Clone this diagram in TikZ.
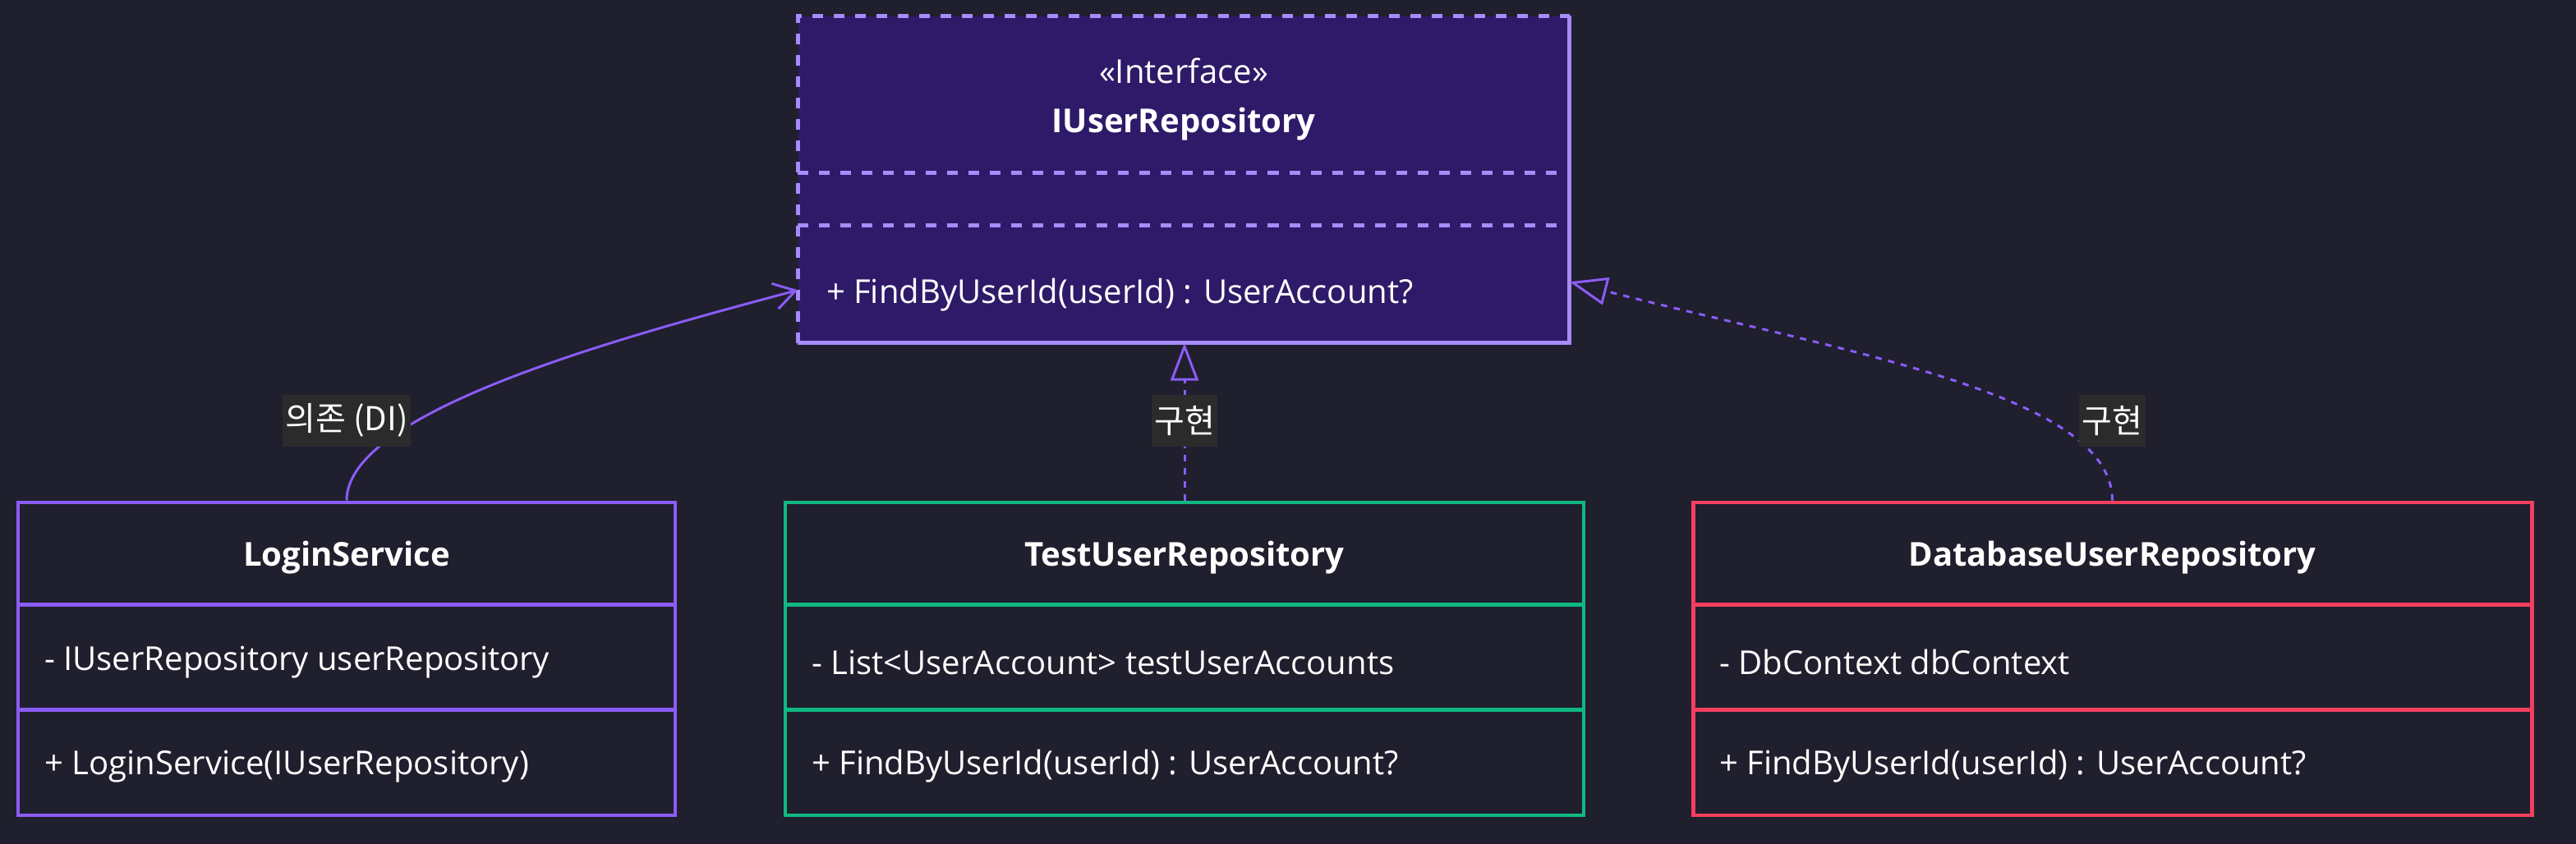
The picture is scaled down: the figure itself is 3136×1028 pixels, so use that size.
\documentclass[tikz,border=0pt]{standalone}
\usepackage{fontspec}
\setmainfont{Open Sans}
\newfontfamily\krfont{Noto Sans CJK KR}
\usetikzlibrary{positioning,arrows.meta}

\definecolor{canvas}{HTML}{1F1F2E}
\definecolor{ifacefill}{HTML}{2E1A68}
\definecolor{ifaceline}{HTML}{A78BFA}
\definecolor{violet}{HTML}{8B5CF6}
\definecolor{mint}{HTML}{10B981}
\definecolor{rose}{HTML}{F43F5E}
\definecolor{labelbg}{HTML}{2B2B2B}

\begin{document}
\begin{tikzpicture}[x=0.1mm, y=-0.1mm,
	every node/.style={text=white, font=\fontsize{11.4}{14}\selectfont},
	classbox/.style={draw=#1, line width=1.4pt, fill=canvas, inner sep=0pt, minimum height=38.1mm},
	title/.style={font=\fontsize{11.4}{14}\selectfont\bfseries},
	member/.style={anchor=west, inner sep=0pt},
	edgelabel/.style={fill=labelbg, inner xsep=1pt, inner ysep=0pt, minimum height=6.3mm, font=\fontsize{11.4}{14}\selectfont\krfont},
	depline/.style={violet, line width=0.85pt},
	implline/.style={violet, line width=0.85pt, dash pattern=on 2.2pt off 2.3pt}
]

	\fill [canvas] (0,0) rectangle (3136,1028);

	% interface
	\node [fill=ifacefill, inner sep=0pt, minimum width=93.8mm, minimum height=39.7mm] (iface) at (1441,218.5) {};
	\draw [ifaceline, line width=1.4pt, dash pattern=on 3.7pt off 3.7pt] (iface.south west) -- (iface.north west) -- (iface.north east);
	\draw [ifaceline, line width=1.4pt] (iface.north east) -- (iface.south east) -- (iface.south west);
	\draw [ifaceline, line width=1.4pt, dash pattern=on 3.7pt off 3.7pt] ([yshift=-19.1mm]iface.north west) -- ([yshift=-19.1mm]iface.north east);
	\draw [ifaceline, line width=1.4pt, dash pattern=on 3.7pt off 3.7pt] ([yshift=-25.5mm]iface.north west) -- ([yshift=-25.5mm]iface.north east);
	\node (ifacestereo) at ([yshift=-6.7mm]iface.north) {«Interface»};
	\node [title] (ifacename) at ([yshift=-13.2mm]iface.north) {IUserRepository};
	\node [member] (ifaceop) at ([xshift=3.4mm, yshift=-34mm]iface.north west) {+ FindByUserId(userId) : UserAccount?};

	% classes
	\node [classbox=violet, minimum width=80mm] (login) at (422,802.5) {};
	\node [classbox=mint, minimum width=97.2mm] (test) at (1442,802.5) {};
	\node [classbox=rose, minimum width=102.1mm] (db) at (2571.5,802.5) {};
	\foreach \cls/\col in {login/violet, test/mint, db/rose} {
		\draw [\col, line width=1.4pt] ([yshift=-12.7mm]\cls.north west) -- ([yshift=-12.7mm]\cls.north east);
		\draw [\col, line width=1.4pt] ([yshift=-25.5mm]\cls.north west) -- ([yshift=-25.5mm]\cls.north east);
	}

	\node [title] (loginname) at ([yshift=-7mm]login.north) {LoginService};
	\node [member] (loginattr) at ([xshift=3.4mm, yshift=-19.7mm]login.north west) {- IUserRepository userRepository};
	\node [member] (loginop) at ([xshift=3.4mm, yshift=-32.4mm]login.north west) {+ LoginService(IUserRepository)};

	\node [title] (testname) at ([yshift=-7mm]test.north) {TestUserRepository};
	\node [member] (testattr) at ([xshift=3.4mm, yshift=-19.7mm]test.north west) {- List<UserAccount> testUserAccounts};
	\node [member] (testop) at ([xshift=3.4mm, yshift=-32.4mm]test.north west) {+ FindByUserId(userId) : UserAccount?};

	\node [title] (dbname) at ([yshift=-7mm]db.north) {DatabaseUserRepository};
	\node [member] (dbattr) at ([xshift=3.4mm, yshift=-19.7mm]db.north west) {- DbContext dbContext};
	\node [member] (dbop) at ([xshift=3.4mm, yshift=-32.4mm]db.north west) {+ FindByUserId(userId) : UserAccount?};

	% connectors
	\draw [depline, arrows={-Straight Barb[length=2.6mm, width=3.2mm]}] (login.north) .. controls (422,500) and (760,410) .. ([yshift=0.6mm]iface.west |- ifaceop);
	\draw [implline, arrows={-Triangle[length=4.6mm, width=3.4mm, fill=canvas]}] (test.north) -- (test.north |- iface.south);
	\draw [implline, arrows={-Triangle[length=4.6mm, width=3.4mm, fill=canvas]}] (db.north) .. controls (2571,480) and (2250,430) .. ([yshift=1.6mm]iface.east |- ifaceop);

	\node [edgelabel, above=6.5mm of login.north] (dilabel) {의존 (DI)};
	\node [edgelabel, above=6.5mm of test.north] (testlabel) {구현};
	\node [edgelabel, above=6.5mm of db.north] (dblabel) {구현};

\end{tikzpicture}
\end{document}
